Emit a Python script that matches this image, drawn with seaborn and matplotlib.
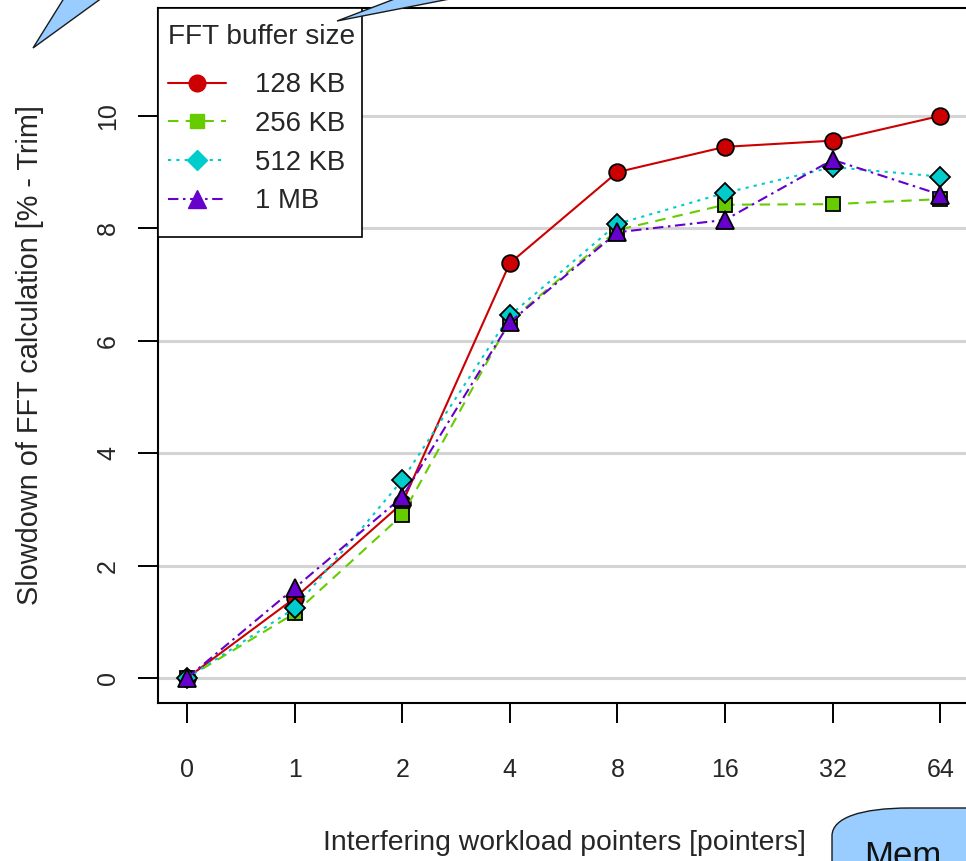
import numpy as np
import pandas as pd
import matplotlib
matplotlib.use("Agg")
import matplotlib.pyplot as plt
import seaborn as sns
from matplotlib.lines import Line2D
from matplotlib.patches import Polygon, PathPatch, Rectangle
from matplotlib.path import Path

# ---- data ----
x_labels = ["0", "1", "2", "4", "8", "16", "32", "64"]
sizes = ["128 KB", "256 KB", "512 KB", "1 MB"]
kb128 = [0.0, 1.42, 3.11, 7.38, 9.00, 9.45, 9.56, 10.00]
kb256 = [0.0, 1.15, 2.90, 6.35, 7.97, 8.42, 8.43, 8.52]
kb512 = [0.0, 1.24, 3.52, 6.45, 8.08, 8.63, 9.09, 8.92]
mb1 = [0.0, 1.60, 3.22, 6.33, 7.93, 8.15, 9.22, 8.60]
y_ticks = [0, 2, 4, 6, 8, 10]

series = [kb128, kb256, kb512, mb1]
colors = ["#cc0000", "#66cc00", "#00cccc", "#6600cc"]
markers = ["o", "s", "D", "^"]
msizes = [12, 10, 10, 12.5]
lstyles = ["-", (0, (5, 3.5)), (0, (1.5, 2.5)), (0, (5, 2.2, 1.2, 2.2))]

pos = np.arange(len(x_labels))
df = pd.DataFrame({
    "pos": np.tile(pos, len(sizes)),
    "val": np.concatenate(series),
    "size": np.repeat(sizes, len(x_labels)),
})

W, H = 966, 861
sns.set_theme(style="white")
plt.rcParams["font.family"] = ["Liberation Sans", "DejaVu Sans"]
fig = plt.figure(figsize=(W / 100, H / 100), dpi=100)

left, right, top, bottom = 158, 970, 8, 703
aw, ah = right - left, bottom - top
ax = fig.add_axes([left / W, 1 - bottom / H, aw / W, ah / H])
ax.set_facecolor("white")

for yv in y_ticks:
    ax.axhline(yv, color="#d4d4d4", lw=2.2, zorder=0)

for i, s in enumerate(sizes):
    sub = df[df["size"] == s]
    sns.lineplot(data=sub, x="pos", y="val", ax=ax, color=colors[i], marker=markers[i],
                 markersize=msizes[i], markeredgecolor="black", markeredgewidth=1.3,
                 linewidth=1.5, linestyle=lstyles[i], legend=False, sort=False, zorder=3 + i)

ax.set_xlim(-0.27, 7.277)
ax.set_ylim(-0.445, 11.92)
ax.set_xticks(pos)
ax.set_xticklabels(x_labels)
ax.set_yticks(y_ticks)
ax.set_yticklabels([str(v) for v in y_ticks], rotation=90, va="center")
ax.tick_params(axis="x", length=14.4, width=1.4, color="black", pad=25, labelsize=18, direction="out", bottom=True)
ax.tick_params(axis="y", length=14.4, width=1.4, color="black", pad=13, labelsize=18, direction="out", left=True)
for sp in ax.spines.values():
    sp.set_color("black")
    sp.set_linewidth(1.5)

ax.set_xlabel("Interfering workload pointers [pointers]", fontsize=20.4, va="center")
ax.xaxis.set_label_coords(0.5, (703 - 843) / ah)
ax.set_ylabel("Slowdown of FFT calculation [% - Trim]", fontsize=20.8, va="center")
ax.yaxis.set_label_coords((30 - left) / aw, 0.5)

# legend frame (drawn as a box) + frameless legend
ax.add_patch(Rectangle((0, (bottom - 237) / ah), (362 - left) / aw, (237 - top) / ah,
                       transform=ax.transAxes, fc="white", ec="black", lw=1.2,
                       clip_on=False, zorder=9))
handles = [Line2D([0], [0], color=colors[i], marker=markers[i], markersize=msizes[i],
                  markeredgecolor=colors[i], linewidth=1.5, linestyle=lstyles[i])
           for i in range(4)]
leg = ax.legend(handles, sizes, title="FFT buffer size", loc="upper left",
                bbox_to_anchor=(168 / W, 1 - 24 / H), bbox_transform=fig.transFigure,
                borderaxespad=0, fontsize=19.8, title_fontsize=20.2, frameon=False,
                handlelength=2.1, handletextpad=1.05, labelspacing=0.46, borderpad=0)
leg._legend_box.align = "left"
leg._legend_box.sep = 16
leg.set_zorder(10)

# ---- overlay decorations (pixel coords) ----
ov = fig.add_axes([0, 0, 1, 1], facecolor="none")
ov.set_xlim(0, W)
ov.set_ylim(H, 0)
ov.axis("off")
blue = "#99ccff"
edge = "#1a1a1a"
ov.add_patch(Polygon([(33, 48), (66, -5), (106, -5)], closed=True, fc=blue, ec=edge, lw=1.0))
ov.add_patch(Polygon([(337, 21), (405, -5), (470, -5)], closed=True, fc=blue, ec=edge, lw=1.0))
verts = [(832, 900), (832, 836), (832, 818), (860, 808), (910, 808), (1000, 808), (1000, 900), (832, 900)]
codes = [Path.MOVETO, Path.LINETO, Path.CURVE4, Path.CURVE4, Path.CURVE4, Path.LINETO, Path.LINETO, Path.CLOSEPOLY]
ov.add_patch(PathPatch(Path(verts, codes), fc=blue, ec=edge, lw=1.0))
ov.text(864, 866, "Mem", fontsize=25, color="#111111", ha="left", va="baseline")

fig.savefig("out.png", dpi=100)
